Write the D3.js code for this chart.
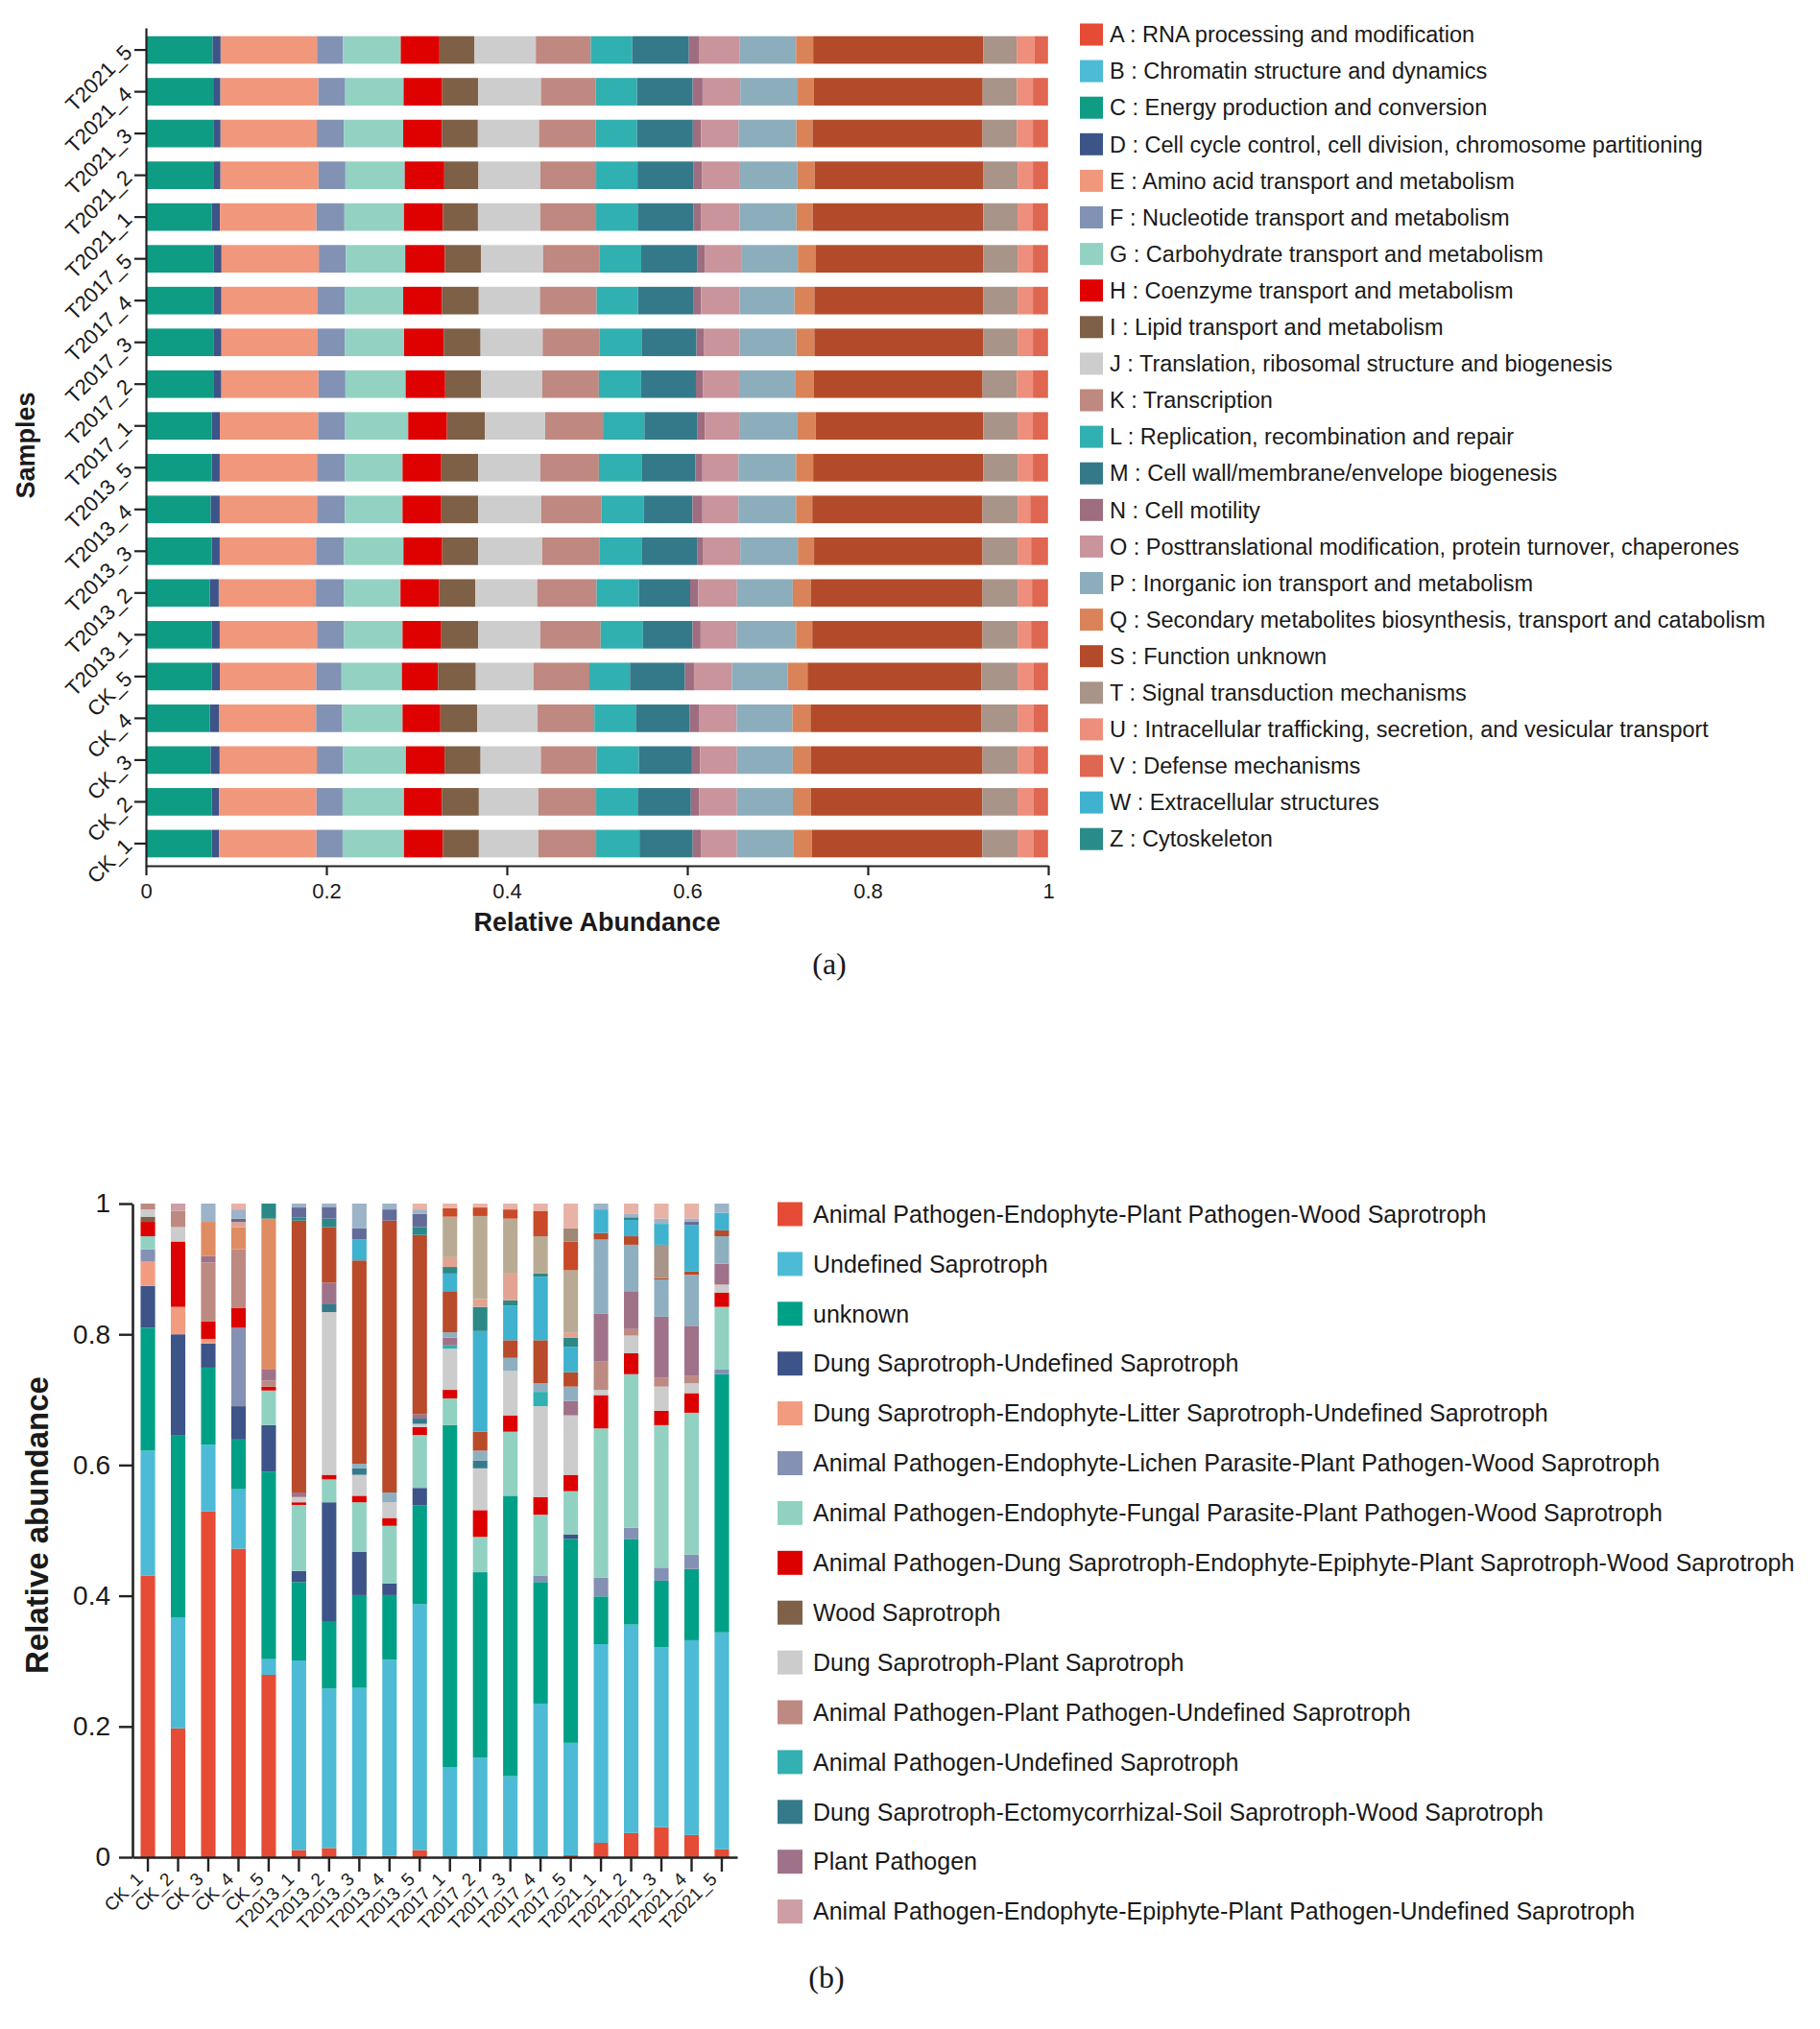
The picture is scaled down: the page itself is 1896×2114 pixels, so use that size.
<!DOCTYPE html>
<html>
<head>
<meta charset="utf-8">
<script src="https://d3js.org/d3.v7.min.js"></script>
<style>
  body { margin: 0; background: #fff; }
  text { font-family: "Liberation Sans", Arial, sans-serif; fill: #1a1a1a; }
</style>
</head>
<body>
<div id="chart"></div>
<script>

// ---------- data : panel (a), COG categories ----------
var samples = ["CK_1","CK_2","CK_3","CK_4","CK_5",
  "T2013_1","T2013_2","T2013_3","T2013_4","T2013_5",
  "T2017_1","T2017_2","T2017_3","T2017_4","T2017_5",
  "T2021_1","T2021_2","T2021_3","T2021_4","T2021_5"];

var cogCodes = ["A","B","C","D","E","F","G","H","I","J","K","L","M","N","O","P","Q","S","T","U","V","W","Z"];
var cogNames = [
  "A : RNA processing and modification",
  "B : Chromatin structure and dynamics",
  "C : Energy production and conversion",
  "D : Cell cycle control, cell division, chromosome partitioning",
  "E : Amino acid transport and metabolism",
  "F : Nucleotide transport and metabolism",
  "G : Carbohydrate transport and metabolism",
  "H : Coenzyme transport and metabolism",
  "I : Lipid transport and metabolism",
  "J : Translation, ribosomal structure and biogenesis",
  "K : Transcription",
  "L : Replication, recombination and repair",
  "M : Cell wall/membrane/envelope biogenesis",
  "N : Cell motility",
  "O : Posttranslational modification, protein turnover, chaperones",
  "P : Inorganic ion transport and metabolism",
  "Q : Secondary metabolites biosynthesis, transport and catabolism",
  "S : Function unknown",
  "T : Signal transduction mechanisms",
  "U : Intracellular trafficking, secretion, and vesicular transport",
  "V : Defense mechanisms",
  "W : Extracellular structures",
  "Z : Cytoskeleton"];
var cogColors = ["#e64b35","#4dbbd5","#0f9c84","#3c5488","#f1977c","#8292b5","#93d2c3","#df0000",
  "#7e6047","#cdcdcd","#bf8880","#30b0b1","#34798a","#9e6d80","#c9949b","#8cadbc",
  "#db8358","#b34b2a","#a99489","#ed8f7c","#df6751","#3fb2cf","#2a8c8a"];

// values per category, samples in the order above
var cogA = [0.0005,0.0005,0.0005,0.0005,0.0005,0.0005,0.0005,0.0005,0.0005,0.0005,0.0005,0.0005,0.0005,0.0005,0.0005,0.0005,0.0005,0.0005,0.0005,0.0005];
var cogB = [0.0005,0.0005,0.0005,0.0005,0.0005,0.0005,0.0005,0.0005,0.0005,0.0005,0.0005,0.0005,0.0005,0.0005,0.0005,0.0005,0.0005,0.0005,0.0005,0.0005];
var cogC = [0.072,0.072,0.071,0.070,0.072,0.072,0.070,0.072,0.071,0.072,0.072,0.074,0.074,0.074,0.074,0.072,0.074,0.074,0.074,0.073];
var cogD = [0.008,0.008,0.010,0.010,0.009,0.009,0.010,0.009,0.010,0.009,0.009,0.009,0.009,0.009,0.009,0.009,0.008,0.008,0.008,0.009];
var cogE = [0.108,0.108,0.108,0.108,0.107,0.108,0.108,0.107,0.108,0.108,0.109,0.108,0.107,0.107,0.108,0.107,0.109,0.107,0.109,0.107];
var cogF = [0.029,0.029,0.029,0.029,0.028,0.030,0.031,0.031,0.031,0.031,0.030,0.030,0.030,0.030,0.030,0.031,0.030,0.030,0.030,0.029];
var cogG = [0.068,0.068,0.070,0.067,0.067,0.065,0.063,0.066,0.064,0.064,0.070,0.067,0.066,0.065,0.066,0.066,0.066,0.066,0.065,0.064];
var cogH = [0.043,0.042,0.043,0.042,0.040,0.043,0.043,0.043,0.043,0.043,0.043,0.044,0.044,0.043,0.044,0.043,0.044,0.043,0.043,0.043];
var cogI = [0.040,0.041,0.040,0.041,0.042,0.041,0.040,0.040,0.041,0.041,0.042,0.040,0.041,0.041,0.040,0.039,0.038,0.040,0.040,0.039];
var cogJ = [0.066,0.066,0.067,0.067,0.064,0.069,0.069,0.071,0.070,0.069,0.067,0.068,0.069,0.068,0.069,0.069,0.069,0.068,0.070,0.068];
var cogK = [0.064,0.064,0.062,0.063,0.062,0.067,0.066,0.064,0.067,0.065,0.064,0.063,0.063,0.063,0.063,0.062,0.062,0.063,0.061,0.061];
var cogL = [0.048,0.046,0.047,0.046,0.045,0.047,0.047,0.047,0.047,0.048,0.046,0.047,0.047,0.046,0.046,0.046,0.046,0.046,0.046,0.046];
var cogM = [0.059,0.059,0.059,0.060,0.061,0.055,0.057,0.061,0.054,0.059,0.059,0.061,0.061,0.062,0.062,0.062,0.062,0.062,0.062,0.063];
var cogN = [0.009,0.009,0.009,0.010,0.010,0.009,0.009,0.007,0.011,0.008,0.008,0.008,0.008,0.008,0.009,0.008,0.010,0.009,0.011,0.011];
var cogO = [0.040,0.042,0.041,0.042,0.042,0.040,0.043,0.041,0.040,0.040,0.039,0.040,0.040,0.043,0.040,0.043,0.042,0.042,0.042,0.045];
var cogP = [0.063,0.062,0.062,0.062,0.062,0.066,0.062,0.064,0.064,0.064,0.064,0.063,0.063,0.061,0.063,0.063,0.064,0.064,0.064,0.063];
var cogQ = [0.020,0.020,0.020,0.020,0.022,0.018,0.020,0.018,0.018,0.019,0.020,0.020,0.020,0.022,0.020,0.018,0.019,0.018,0.018,0.019];
var cogS = [0.189,0.190,0.191,0.190,0.193,0.189,0.191,0.187,0.189,0.189,0.186,0.188,0.188,0.188,0.186,0.189,0.188,0.189,0.188,0.189];
var cogT = [0.039,0.039,0.039,0.040,0.040,0.039,0.039,0.039,0.039,0.038,0.038,0.038,0.038,0.038,0.038,0.038,0.038,0.038,0.038,0.037];
var cogU = [0.018,0.018,0.018,0.018,0.018,0.015,0.016,0.015,0.014,0.017,0.017,0.018,0.017,0.017,0.017,0.017,0.017,0.018,0.018,0.020];
var cogV = [0.015,0.015,0.015,0.015,0.015,0.018,0.017,0.018,0.019,0.016,0.016,0.016,0.016,0.016,0.016,0.016,0.016,0.016,0.016,0.014];
var cogW = [0.0005,0.0005,0.0005,0.0005,0.0005,0.0005,0.0005,0.0005,0.0005,0.0005,0.0005,0.0005,0.0005,0.0005,0.0005,0.0005,0.0005,0.0005,0.0005,0.0005];
var cogZ = [0.0005,0.0005,0.0005,0.0005,0.0005,0.0005,0.0005,0.0005,0.0005,0.0005,0.0005,0.0005,0.0005,0.0005,0.0005,0.0005,0.0005,0.0005,0.0005,0.0005];

var cogSeries = [cogA,cogB,cogC,cogD,cogE,cogF,cogG,cogH,cogI,cogJ,cogK,cogL,cogM,cogN,cogO,cogP,cogQ,cogS,cogT,cogU,cogV,cogW,cogZ];

// ---------- data : panel (b), FUNGuild guilds ----------
var guildNames = [
  "Animal Pathogen-Endophyte-Plant Pathogen-Wood Saprotroph",
  "Undefined Saprotroph",
  "unknown",
  "Dung Saprotroph-Undefined Saprotroph",
  "Dung Saprotroph-Endophyte-Litter Saprotroph-Undefined Saprotroph",
  "Animal Pathogen-Endophyte-Lichen Parasite-Plant Pathogen-Wood Saprotroph",
  "Animal Pathogen-Endophyte-Fungal Parasite-Plant Pathogen-Wood Saprotroph",
  "Animal Pathogen-Dung Saprotroph-Endophyte-Epiphyte-Plant Saprotroph-Wood Saprotroph",
  "Wood Saprotroph",
  "Dung Saprotroph-Plant Saprotroph",
  "Animal Pathogen-Plant Pathogen-Undefined Saprotroph",
  "Animal Pathogen-Undefined Saprotroph",
  "Dung Saprotroph-Ectomycorrhizal-Soil Saprotroph-Wood Saprotroph",
  "Plant Pathogen",
  "Animal Pathogen-Endophyte-Epiphyte-Plant Pathogen-Undefined Saprotroph"];
var guildColors = ["#e64b35","#4dbbd5","#00a087","#3c5488","#f39b7f","#8491b4","#91d1c2","#dc0000",
  "#7e6148","#cccccc","#bd8a82","#32b0b2","#357a8b","#a0728a","#cd9ea4"];
// guilds that are drawn in the bars but not listed in the legend
var otherColors = ["#8eafc0","#e08c62","#b94b2a","#a89488","#3fb2cf","#2b8887","#e2a392",
  "#b9ab93","#636b98","#c84a28","#a08878","#9db3c8","#e8b2a6"];

var guild01 = [0.431,0.197,0.529,0.472,0.279,0.011,0.014,0.002,0.002,0.011,0.001,0,0,0,0.003,0.022,0.037,0.046,0.034,0.012];
var guild02 = [0.191,0.170,0.102,0.091,0.024,0.290,0.244,0.257,0.300,0.376,0.137,0.152,0.124,0.235,0.172,0.304,0.319,0.275,0.298,0.332];
var guild03 = [0.188,0.279,0.118,0.076,0.287,0.120,0.102,0.142,0.099,0.151,0.523,0.284,0.429,0.186,0.312,0.073,0.131,0.102,0.109,0.395];
var guild04 = [0.064,0.154,0.037,0.051,0.071,0.017,0.183,0.066,0.018,0.027,0,0,0,0,0.007,0,0,0,0,0];
var guild05 = [0.037,0.042,0.007,0,0,0,0,0,0,0,0,0,0,0,0,0,0,0,0,0];
var guild06 = [0.019,0,0,0.120,0,0,0,0,0,0,0,0,0,0.010,0,0.029,0.017,0.020,0.022,0.007];
var guild07 = [0.020,0,0,0,0.053,0.101,0.035,0.076,0.088,0.081,0.041,0.054,0.098,0.093,0.066,0.228,0.235,0.218,0.217,0.096];
var guild08 = [0.022,0.100,0.027,0.030,0.006,0.004,0.007,0.010,0.012,0.012,0.013,0.041,0.025,0.027,0.025,0.051,0.032,0.022,0.030,0.022];
var guild09 = [0.008,0,0,0,0,0,0,0,0,0,0,0,0,0,0,0,0,0,0,0];
var guild10 = [0.011,0.022,0,0,0,0.008,0.249,0.032,0.024,0.005,0.063,0.064,0.068,0.139,0.091,0.008,0.027,0.037,0.015,0.012];
var guild11 = [0.009,0.025,0.090,0.090,0.009,0,0,0,0,0,0,0,0,0,0,0.044,0.010,0.014,0.012,0];
var guild12 = [0,0,0,0,0,0,0,0,0,0,0.005,0,0,0.022,0,0,0,0,0,0];
var guild13 = [0,0,0,0,0,0,0.013,0.010,0,0.008,0,0.012,0,0,0,0,0,0,0,0];
var guild14 = [0,0,0.010,0,0.017,0.007,0.032,0,0,0.007,0.012,0,0,0,0.022,0.073,0.058,0.093,0.076,0.032];
var guild15 = [0,0.011,0,0,0,0,0,0,0,0,0,0,0,0,0,0,0,0,0,0];
var other01 = [0,0,0,0,0,0,0,0.007,0.015,0,0.008,0.015,0.020,0.013,0.022,0.113,0.071,0.057,0.078,0.042];
var other02 = [0,0,0.052,0.034,0.231,0,0,0,0,0,0,0,0,0,0,0,0,0,0,0];
var other03 = [0,0,0,0,0,0.416,0.085,0.311,0.416,0.274,0.063,0.029,0.027,0.066,0.022,0.010,0.013,0.002,0.005,0.009];
var other04 = [0,0,0,0,0,0,0,0,0,0,0,0,0,0,0,0,0,0.051,0,0];
var other05 = [0,0,0,0,0,0,0,0.032,0,0,0.027,0.154,0.053,0.097,0.039,0.036,0.025,0.032,0.071,0.027];
var other06 = [0,0,0,0,0.023,0.005,0.013,0,0,0.012,0.010,0.037,0.008,0.005,0.014,0,0.004,0,0,0];
var other07 = [0,0,0,0.008,0,0,0,0,0,0,0.015,0.012,0.041,0,0.008,0,0,0,0,0];
var other08 = [0,0,0,0,0,0,0,0,0,0,0.062,0.127,0.084,0.057,0.095,0,0,0,0,0];
var other09 = [0,0,0,0.005,0,0.015,0.018,0.017,0.017,0.020,0,0,0,0,0,0,0,0,0.005,0];
var other10 = [0,0,0,0,0,0,0,0,0,0,0.013,0.013,0.014,0.039,0.044,0,0,0,0,0];
var other11 = [0,0,0,0,0,0,0,0,0,0,0,0,0,0,0.020,0,0,0,0,0];
var other12 = [0,0,0.028,0.014,0,0.006,0.005,0.038,0.009,0.007,0,0,0,0,0,0.009,0.005,0.008,0.005,0.014];
var other13 = [0,0,0,0.009,0,0,0,0,0,0.009,0.007,0.006,0.009,0.011,0.038,0,0.016,0.023,0.023,0];

var guildSeries = [guild01,guild02,guild03,guild04,guild05,guild06,guild07,guild08,guild09,guild10,
  guild11,guild12,guild13,guild14,guild15,
  other01,other02,other03,other04,other05,other06,other07,other08,other09,other10,other11,other12,other13];

var yTicksA = [0, 0.2, 0.4, 0.6, 0.8, 1];
var yTicksB = [0, 0.2, 0.4, 0.6, 0.8, 1];

// ---------- svg ----------
var svgWidth = 1896;
var svgHeight = 2114;

var svg = d3.select("#chart")
  .append("svg")
  .attr("width", svgWidth)
  .attr("height", svgHeight);

svg.append("rect")
  .attr("width", svgWidth)
  .attr("height", svgHeight)
  .attr("fill", "#fff");

var fmt = d3.format("~g");

// =====================================================
// panel (a) : horizontal stacked bars
// =====================================================
var a = { left: 152, right: 1092, top: 29, bottom: 902 };

var xA = d3.scaleLinear()
  .domain([0, 1])
  .range([a.left, a.right]);

// CK_1 at the bottom, T2021_5 at the top
var yA = d3.scaleBand()
  .domain(samples)
  .range([a.bottom, a.top])
  .paddingInner(0.34)
  .paddingOuter(0.2);

var tableA = samples.map(function(s, i) {
  var row = { sample: s };
  cogCodes.forEach(function(c, j) { row[c] = cogSeries[j][i]; });
  return row;
});

var stackA = d3.stack()
  .keys(cogCodes)
  .offset(d3.stackOffsetExpand)(tableA);

var groupA = svg.append("g");

groupA.selectAll("g.layer")
  .data(stackA)
  .enter()
  .append("g")
  .attr("class", "layer")
  .attr("fill", (d, i) => cogColors[i])
  .selectAll("rect")
  .data(d => d)
  .enter()
  .append("rect")
  .attr("x", d => xA(d[0]))
  .attr("width", d => Math.max(0, xA(d[1]) - xA(d[0])))
  .attr("y", d => yA(d.data.sample))
  .attr("height", yA.bandwidth());

// x axis
var xAxisA = svg.append("g")
  .attr("transform", `translate(0, ${a.bottom})`)
  .call(d3.axisBottom(xA).tickValues(yTicksA).tickFormat(fmt).tickSize(10).tickSizeOuter(0));
xAxisA.selectAll("text").attr("font-size", "22px").attr("y", 18);

// y axis
var yAxisA = svg.append("g")
  .attr("transform", `translate(${a.left}, 0)`)
  .call(d3.axisLeft(yA).tickSize(12).tickSizeOuter(0));
yAxisA.selectAll("text")
  .attr("font-size", "22px")
  .attr("x", 0)
  .attr("dy", 0)
  .attr("text-anchor", "end")
  .attr("transform", "translate(-13, 4) rotate(-45)");

[xAxisA, yAxisA].forEach(function(g) {
  g.select(".domain").attr("stroke", "#222").attr("stroke-width", 2.2);
  g.selectAll(".tick line").attr("stroke", "#222").attr("stroke-width", 2.2);
  g.selectAll("text").attr("fill", "#222").attr("font-family", "Liberation Sans, Arial, sans-serif");
});

// axis titles
svg.append("text")
  .attr("x", (a.left + a.right) / 2)
  .attr("y", 970)
  .attr("text-anchor", "middle")
  .attr("font-size", "27px")
  .attr("font-weight", "bold")
  .text("Relative Abundance");

svg.append("text")
  .attr("transform", "translate(36, 464) rotate(-90)")
  .attr("text-anchor", "middle")
  .attr("font-size", "27px")
  .attr("font-weight", "bold")
  .text("Samples");

// legend (a)
var legendA = svg.append("g");
cogNames.forEach(function(name, i) {
  var cy = 36 + i * 38.1;
  legendA.append("rect")
    .attr("x", 1125).attr("y", cy - 11.5)
    .attr("width", 24).attr("height", 23)
    .attr("fill", cogColors[i]);
  legendA.append("text")
    .attr("x", 1156).attr("y", cy)
    .attr("dy", "0.35em")
    .attr("font-size", "23.5px")
    .text(name);
});

svg.append("text")
  .attr("x", 864).attr("y", 1015)
  .attr("text-anchor", "middle")
  .attr("font-size", "32px")
  .style("font-family", "Liberation Serif, Times New Roman, serif")
  .text("(a)");

// =====================================================
// panel (b) : vertical stacked bars
// =====================================================
var b = { left: 138, right: 768, top: 1254, bottom: 1935 };

var xB = d3.scaleBand()
  .domain(samples)
  .range([b.left, b.right])
  .paddingInner(0.52)
  .paddingOuter(0.27);

var yB = d3.scaleLinear()
  .domain([0, 1])
  .range([b.bottom, b.top]);

var guildKeys = guildSeries.map((d, i) => "g" + i);
var guildFill = guildColors.concat(otherColors);

var tableB = samples.map(function(s, i) {
  var row = { sample: s };
  guildKeys.forEach(function(k, j) { row[k] = guildSeries[j][i]; });
  return row;
});

var stackB = d3.stack()
  .keys(guildKeys)
  .offset(d3.stackOffsetExpand)(tableB);

svg.append("g")
  .selectAll("g.layer")
  .data(stackB)
  .enter()
  .append("g")
  .attr("class", "layer")
  .attr("fill", (d, i) => guildFill[i])
  .selectAll("rect")
  .data(d => d)
  .enter()
  .append("rect")
  .attr("x", d => xB(d.data.sample))
  .attr("width", xB.bandwidth())
  .attr("y", d => yB(d[1]))
  .attr("height", d => Math.max(0, yB(d[0]) - yB(d[1])));

var xAxisB = svg.append("g")
  .attr("transform", `translate(0, ${b.bottom})`)
  .call(d3.axisBottom(xB).tickSize(15).tickSizeOuter(0));
xAxisB.selectAll("text")
  .attr("font-size", "19px")
  .attr("x", 0)
  .attr("y", 0)
  .attr("dy", 0)
  .attr("text-anchor", "end")
  .attr("transform", "translate(-4, 24) rotate(-45)");

var yAxisB = svg.append("g")
  .attr("transform", `translate(${b.left}, 0)`)
  .call(d3.axisLeft(yB).tickValues(yTicksB).tickFormat(fmt).tickSize(14).tickSizeOuter(0).tickPadding(9));
yAxisB.selectAll("text").attr("font-size", "28px");

[xAxisB, yAxisB].forEach(function(g) {
  g.select(".domain").attr("stroke", "#222").attr("stroke-width", 2.6);
  g.selectAll(".tick line").attr("stroke", "#222").attr("stroke-width", 2.4);
  g.selectAll("text").attr("fill", "#222").attr("font-family", "Liberation Sans, Arial, sans-serif");
});

svg.append("text")
  .attr("transform", "translate(50, 1589) rotate(-90)")
  .attr("text-anchor", "middle")
  .attr("font-size", "33px")
  .attr("font-weight", "bold")
  .text("Relative abundance");

// legend (b)
var legendB = svg.append("g");
guildNames.forEach(function(name, i) {
  var cy = 1265 + i * 51.9;
  legendB.append("rect")
    .attr("x", 810).attr("y", cy - 12.5)
    .attr("width", 26).attr("height", 25)
    .attr("fill", guildColors[i]);
  legendB.append("text")
    .attr("x", 847).attr("y", cy)
    .attr("dy", "0.35em")
    .attr("font-size", "25px")
    .text(name);
});

svg.append("text")
  .attr("x", 861).attr("y", 2071)
  .attr("text-anchor", "middle")
  .attr("font-size", "32px")
  .style("font-family", "Liberation Serif, Times New Roman, serif")
  .text("(b)");

</script>
</body>
</html>
